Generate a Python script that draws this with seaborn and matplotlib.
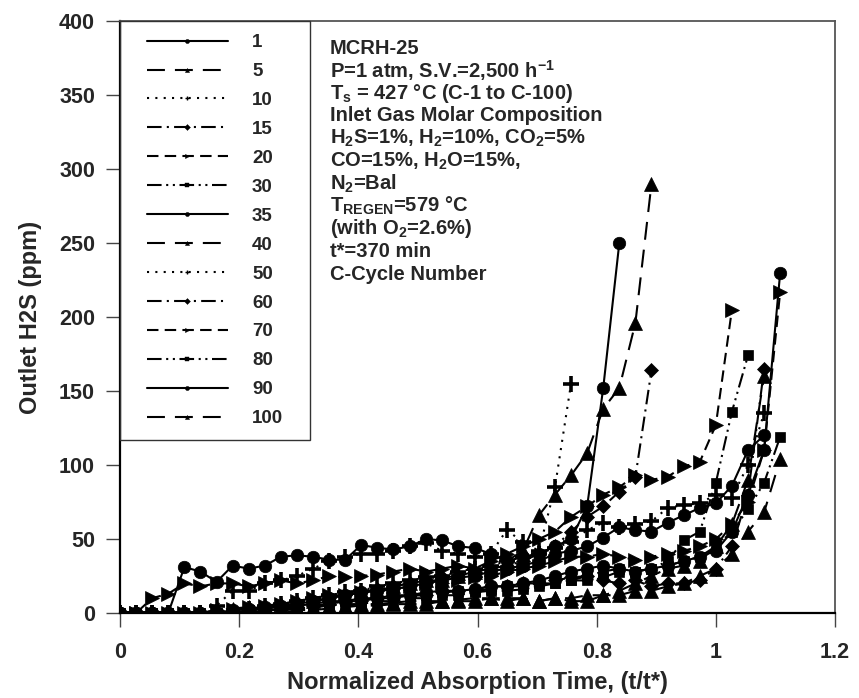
import numpy as np
import pandas as pd
import matplotlib
matplotlib.use('Agg')
import matplotlib.pyplot as plt
import seaborn as sns
from matplotlib.lines import Line2D
from matplotlib.patches import Rectangle

# ---------------- data ----------------
t_norm = [0.000, 0.027, 0.054, 0.081, 0.108, 0.135, 0.162, 0.189, 0.216, 0.243,
          0.270, 0.297, 0.324, 0.351, 0.378, 0.405, 0.432, 0.459, 0.486, 0.514,
          0.541, 0.568, 0.595, 0.622, 0.649, 0.676, 0.703, 0.730, 0.757, 0.784,
          0.811, 0.838, 0.865, 0.892, 0.919, 0.946, 0.973, 1.000, 1.027, 1.054,
          1.081, 1.108]

cycles = ['1', '5', '10', '15', '20', '30', '35', '40', '50', '60', '70', '80', '90', '100']

c1 = [0, 0, 0, 0, 31, 28, 21, 32, 30, 32, 38, 39, 38, 36, 36, 46, 44, 43, 45, 50,
      49, 45, 44, 40, 35, 38, 40, 45, 50, 72, 152, 250]
c5 = [0, 0, 0, 0, 0, 0, 2, 3, 4, 5, 6, 8, 8, 10, 12, 14, 15, 18, 20, 22,
      22, 25, 28, 30, 35, 42, 66, 80, 93, 108, 138, 152, 196, 290]
c10 = [0, 0, 0, 0, 0, 0, 5, 15, 15, 20, 22, 25, 30, 35, 38, 40, 40, 42, 45, 47,
       42, 40, 38, 40, 56, 48, 42, 85, 155]
c15 = [0, 0, 0, 0, 0, 0, 0, 2, 3, 4, 5, 6, 8, 10, 12, 14, 16, 18, 20, 22,
       24, 25, 28, 30, 32, 35, 40, 45, 55, 65, 72, 82, 92, 164]
c20 = [0, 0, 10, 13, 20, 18, 20, 20, 18, 20, 22, 20, 22, 25, 24, 25, 26, 28, 30, 28,
       30, 32, 30, 35, 40, 45, 50, 55, 65, 72, 80, 85, 93, 90, 92, 99, 102, 127, 205]
c30 = [0, 0, 0, 0, 0, 0, 0, 0, 2, 3, 4, 5, 5, 6, 8, 8, 10, 10, 12, 12,
       14, 15, 15, 16, 18, 18, 20, 20, 22, 22, 24, 28, 28, 30, 35, 49, 55, 88, 136, 174]
c35 = [0, 0, 0, 0, 0, 0, 0, 2, 3, 4, 5, 6, 8, 10, 12, 14, 15, 16, 18, 20,
       22, 24, 25, 28, 30, 32, 35, 40, 42, 45, 51, 58, 56, 55, 61, 66, 71, 74, 86, 110, 120]
c40 = [0, 0, 0, 0, 0, 0, 0, 0, 0, 2, 2, 3, 4, 5, 5, 6, 6, 7, 8, 8,
       8, 9, 10, 10, 8, 10, 8, 10, 8, 8, 12, 15, 20, 25, 30, 32, 35, 45, 60, 90, 160]
c50 = [0, 0, 0, 0, 0, 0, 0, 0, 3, 5, 6, 8, 10, 12, 14, 15, 18, 20, 22, 24,
       25, 28, 30, 32, 35, 38, 40, 44, 48, 56, 61, 58, 60, 62, 71, 73, 74, 80, 78, 100, 135]
c60 = [0, 0, 0, 0, 0, 0, 0, 0, 0, 2, 3, 4, 5, 6, 8, 8, 10, 10, 12, 12,
       14, 15, 16, 18, 18, 20, 20, 22, 24, 25, 22, 20, 22, 18, 20, 20, 22, 30, 45, 80, 165]
c70 = [0, 0, 0, 0, 0, 0, 2, 3, 4, 5, 6, 8, 10, 12, 12, 14, 15, 16, 18, 20,
       20, 22, 24, 25, 28, 30, 32, 35, 38, 38, 40, 38, 36, 38, 40, 42, 45, 50, 60, 75, 110, 217]
c80 = [0, 0, 0, 0, 0, 0, 0, 0, 0, 0, 2, 3, 4, 5, 6, 6, 8, 8, 10, 10,
       12, 12, 14, 15, 15, 16, 18, 20, 22, 25, 28, 30, 28, 30, 32, 35, 38, 45, 55, 70, 88, 119]
c90 = [0, 0, 0, 0, 0, 0, 0, 0, 2, 3, 4, 5, 6, 8, 8, 10, 10, 12, 12, 14,
       15, 15, 16, 18, 18, 20, 22, 25, 28, 30, 32, 30, 28, 30, 32, 35, 38, 42, 55, 80, 110, 230]
c100 = [0, 0, 0, 0, 0, 0, 0, 0, 0, 0, 0, 2, 2, 3, 4, 5, 5, 6, 6, 6,
        8, 8, 8, 10, 10, 10, 8, 10, 10, 12, 12, 12, 15, 15, 18, 20, 25, 30, 40, 55, 68, 104]

series = [c1, c5, c10, c15, c20, c30, c35, c40, c50, c60, c70, c80, c90, c100]

rows = []
for cyc, vals in zip(cycles, series):
    for tx, v in zip(t_norm, vals):
        rows.append({'cycle': cyc, 't': tx, 'ppm': v})
df = pd.DataFrame(rows)

# ---------------- styles ----------------
ls_cycle = ['-', (0, (8.6, 4.8)), (0, (1, 3)), (0, (7, 2.5, 1, 2.5)),
            (0, (5.5, 3)), (0, (7, 2.2, 1, 2.2, 1, 2.2))]
mk_cycle = ['o', '^', '+', 'D', '>', 's']
ms_cycle = [9, 9.5, 12, 7, 9.5, 7.5]

sns.set_style('ticks')
plt.rcParams['font.family'] = ['Liberation Sans', 'DejaVu Sans']
plt.rcParams['font.weight'] = 'bold'
plt.rcParams['mathtext.fontset'] = 'custom'
plt.rcParams['mathtext.rm'] = 'Liberation Sans:bold'
plt.rcParams['mathtext.it'] = 'Liberation Sans:bold'
plt.rcParams['mathtext.bf'] = 'Liberation Sans:bold'

fig = plt.figure(figsize=(8.59, 6.98), dpi=100)
ax = fig.add_axes([120/859, 1-613/698, 715/859, 592/698])

handles = []
for i, cyc in enumerate(cycles):
    sub = df[df['cycle'] == cyc]
    ls = ls_cycle[i % 6]
    mk = mk_cycle[i % 6]
    ms = ms_cycle[i % 6]
    mew = 2.6 if mk == '+' else 0.5
    sns.lineplot(data=sub, x='t', y='ppm', ax=ax, color='black', linestyle=ls,
                 linewidth=1.5, marker=mk, markersize=ms, markeredgewidth=mew,
                 markeredgecolor='black', markerfacecolor='black',
                 legend=False, estimator=None, sort=False)
    handles.append(Line2D([], [], color='black', linestyle=ls, linewidth=1.5,
                          marker=mk, markersize=3, markeredgewidth=1 if mk == '+' else 0.3,
                          markerfacecolor='black', markeredgecolor='black'))

ax.set_xlim(0, 1.2)
ax.set_ylim(0, 400)
ax.set_xticks([0, 0.2, 0.4, 0.6, 0.8, 1.0, 1.2])
ax.set_xticklabels(['0', '0.2', '0.4', '0.6', '0.8', '1', '1.2'])
ax.set_yticks([0, 50, 100, 150, 200, 250, 300, 350, 400])

ax.tick_params(axis='both', direction='out', length=10, width=1.0, color='#444444',
               labelsize=15.5)
ax.tick_params(axis='x', pad=11)
ax.tick_params(axis='y', pad=8)
for lab in ax.get_xticklabels() + ax.get_yticklabels():
    lab.set_fontweight('bold')

for side in ['left', 'bottom']:
    ax.spines[side].set_color('black')
    ax.spines[side].set_linewidth(1.6)
for side in ['top', 'right']:
    ax.spines[side].set_visible(True)
    ax.spines[side].set_color('#555555')
    ax.spines[side].set_linewidth(1.3)

ax.set_xlabel('Normalized Absorption Time, (t/t*)', fontsize=17, fontweight='bold', labelpad=6)
ax.set_ylabel('Outlet H2S (ppm)', fontsize=17, fontweight='bold', labelpad=12)

# legend box
ax.add_patch(Rectangle((0, (613-440)/592), (310-120)/715, (440-21)/592,
                       transform=ax.transAxes, fill=False, edgecolor='#333333',
                       linewidth=1.0, zorder=5, clip_on=False))
leg = ax.legend(handles, cycles, frameon=False, loc='upper left',
                bbox_to_anchor=(147/859, 1-34/698), bbox_transform=fig.transFigure,
                borderpad=0, borderaxespad=0, handlelength=4.3, handletextpad=1.3,
                labelspacing=0.63, prop={'size': 13.5, 'weight': 'bold'})

# annotation text
ann = ['MCRH-25',
       'P=1 atm, S.V.=2,500 h$^{-1}$',
       'T$_\\mathrm{s}$ = 427 °C (C-1 to C-100)',
       'Inlet Gas Molar Composition',
       'H$_2$S=1%, H$_2$=10%, CO$_2$=5%',
       'CO=15%, H$_2$O=15%,',
       'N$_2$=Bal',
       'T$_\\mathrm{REGEN}$=579 °C',
       '(with O$_2$=2.6%)',
       't*=370 min',
       'C-Cycle Number']
for k, line in enumerate(ann):
    fig.text(330/859, 1 - (48 + 22.6*k)/698, line, fontsize=14.5, fontweight='bold',
             ha='left', va='center')

fig.savefig('out.png', dpi=100)
